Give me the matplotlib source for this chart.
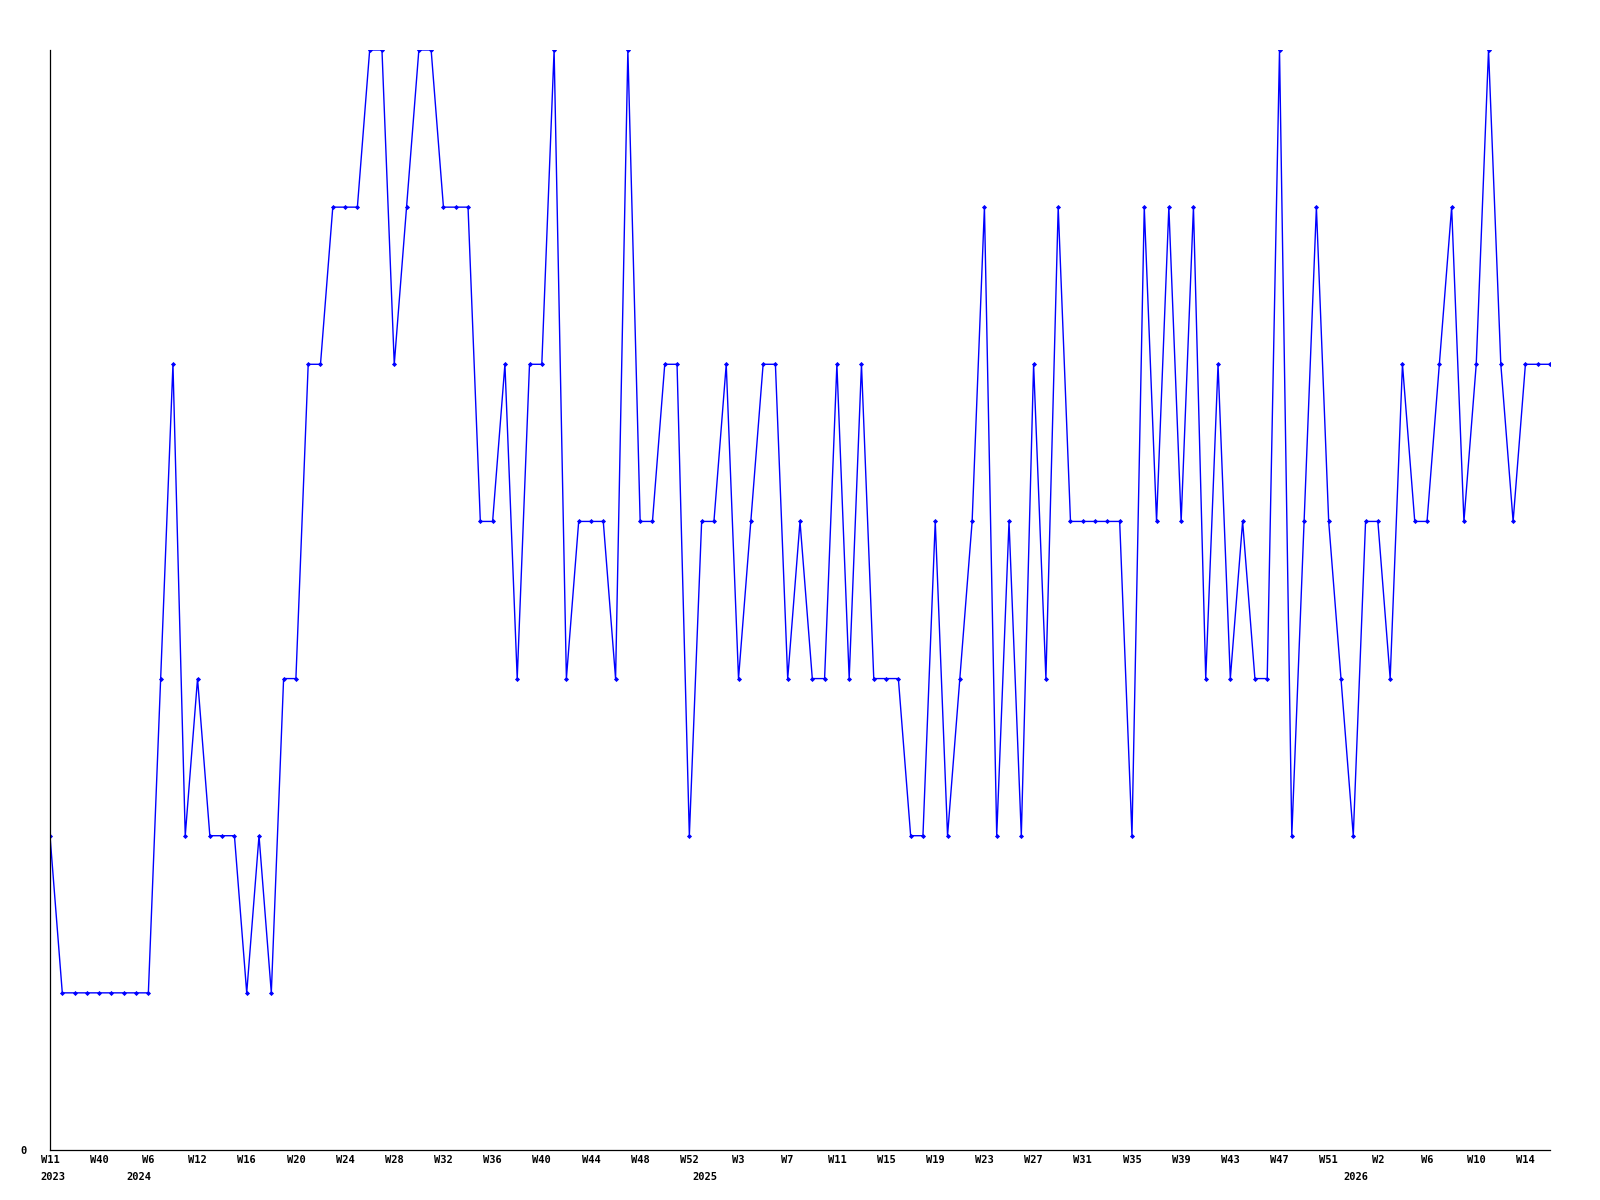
"""Weekly level chart: blue line with point markers, week labels on the x axis."""

import matplotlib

matplotlib.use("Agg")
import matplotlib.pyplot as plt

# one value per plotted week (index positions along the x axis)
VALUES = [
    2, 1, 1, 1, 1, 1, 1, 1, 1, 3, 5, 2, 3, 2, 2, 2, 1, 2, 1, 3,
    3, 5, 5, 6, 6, 6, 7, 7, 5, 6, 7, 7, 6, 6, 6, 4, 4, 5, 3, 5,
    5, 7, 3, 4, 4, 4, 3, 7, 4, 4, 5, 5, 2, 4, 4, 5, 3, 4, 5, 5,
    3, 4, 3, 3, 5, 3, 5, 3, 3, 3, 2, 2, 4, 2, 3, 4, 6, 2, 4, 2,
    5, 3, 6, 4, 4, 4, 4, 4, 2, 6, 4, 6, 4, 6, 3, 5, 3, 4, 3, 3,
    7, 2, 4, 6, 4, 3, 2, 4, 4, 3, 5, 4, 4, 5, 6, 4, 5, 7, 5, 4,
    5, 5, 5,
]

# labels every 4th point
WEEK_LABELS = [
    "W11", "W40", "W6", "W12", "W16", "W20", "W24", "W28", "W32", "W36",
    "W40", "W44", "W48", "W52", "W3", "W7", "W11", "W15", "W19", "W23",
    "W27", "W31", "W35", "W39", "W43", "W47", "W51", "W2", "W6", "W10",
    "W14",
]

# first point of each year
YEAR_LABELS = ["2023", "2024", "2025", "2026"]
YEAR_INDEX = [0, 7, 53, 106]

FONT = {"family": "DejaVu Sans Mono", "weight": "bold", "size": 7.5}


def main():
    fig = plt.figure(figsize=(16, 12), dpi=100)
    ax = fig.add_axes([50 / 1600, 50 / 1200, 1500 / 1600, 1100 / 1200])

    xs = list(range(len(VALUES)))
    ax.plot(
        xs,
        VALUES,
        color="#0000ff",
        linewidth=1.0,
        marker="D",
        markersize=2.6,
        markeredgewidth=0.0,
    )

    ax.set_xlim(0, len(VALUES) - 1)
    ax.set_ylim(0, 7)

    ax.set_xticks(xs[::4][: len(WEEK_LABELS)])
    ax.set_xticklabels(WEEK_LABELS, fontdict=FONT)
    ax.set_yticks([0])
    ax.set_yticklabels(["0"], fontdict=FONT)
    ax.tick_params(axis="x", length=0, pad=3.5)
    ax.tick_params(axis="y", length=0, pad=17)

    for idx, year in zip(YEAR_INDEX, YEAR_LABELS):
        ax.annotate(
            year,
            xy=(idx, 0),
            xycoords=("data", "axes fraction"),
            xytext=(2, -19.5),
            textcoords="offset points",
            ha="center",
            va="center",
            **FONT,
        )

    for side in ("top", "right"):
        ax.spines[side].set_visible(False)
    for side in ("left", "bottom"):
        ax.spines[side].set_color("black")
        ax.spines[side].set_linewidth(0.9)

    fig.savefig("out.png", dpi=100)
    plt.close(fig)


if __name__ == "__main__":
    main()
